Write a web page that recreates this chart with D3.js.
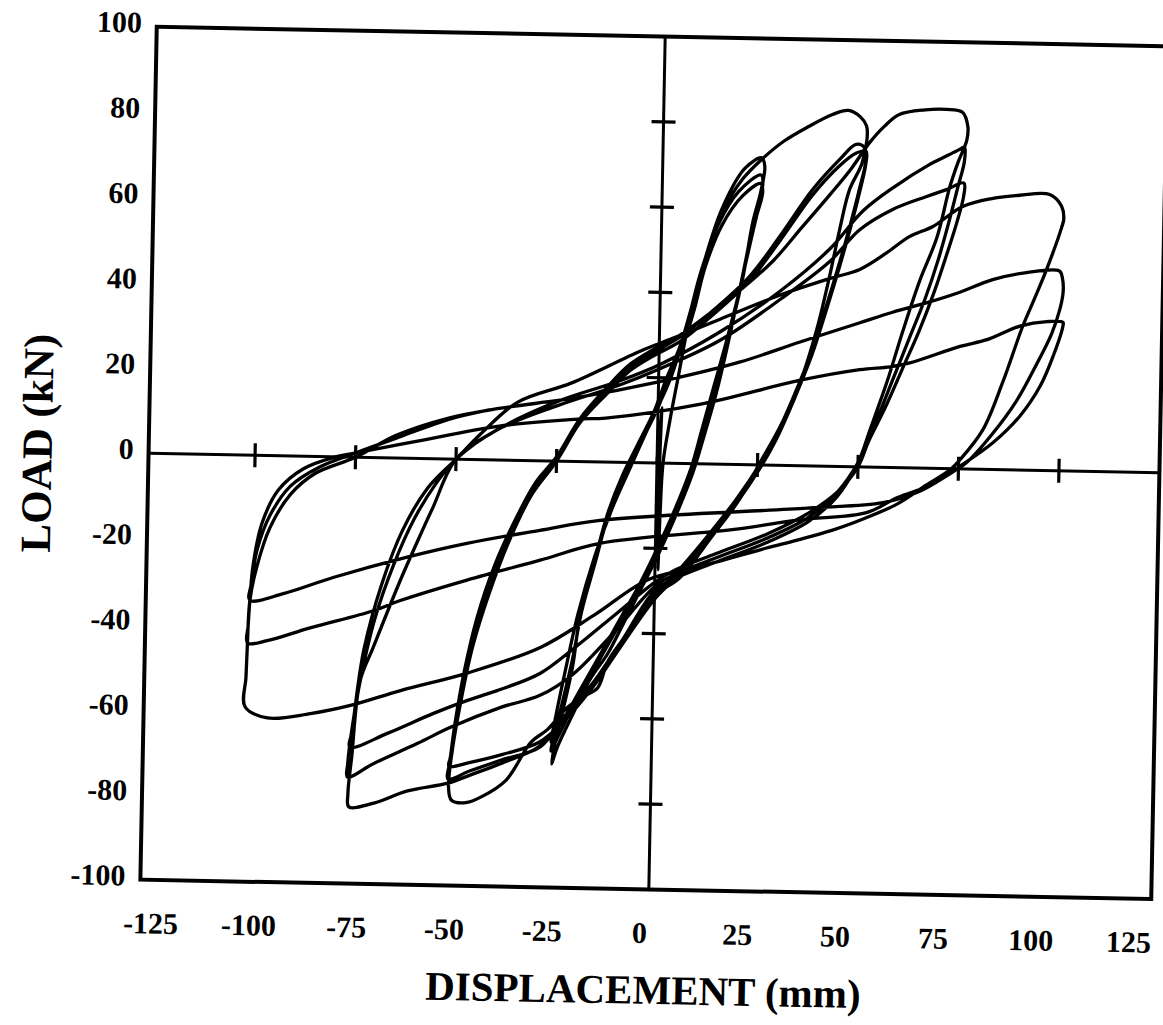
<!DOCTYPE html>
<html>
<head>
<meta charset="utf-8">
<script src="https://cdn.jsdelivr.net/npm/d3@7"></script>
<style>
  body { margin: 0; background: #fff; }
  text { font-family: "Liberation Serif", "Times New Roman", serif; font-weight: bold; fill: #000; }
</style>
</head>
<body>
<svg id="chart" width="1163" height="1025"></svg>
<script>
// Cyclic load test: load (kN) against displacement (mm), recorded in loading order.
const initialLoading = [[0,0],[0.9,13],[0.7,3],[0.5,-12],[0.7,-25],[1,-12],[1.5,0],[3,10],[5,21],[7,32],[10.4,46],[15,60],[20.5,69.5],[24.6,72]];

const cycles25 = [
  [25.4,70],[24.5,64],[22.7,57],[20.5,44],[18.5,35],[16.8,27],[14.5,17],[11.3,5.6],[9,-2],[5.2,-11.6],[0.5,-22],[-3.6,-30],[-7.7,-38],[-11.4,-45],[-15.6,-51],[-19.6,-59],[-23.4,-67],[-24.8,-71],
  [-24,-66],[-22.6,-60],[-20,-48],[-18.4,-36],[-15,-23],[-12,-12],[-8.5,-3],[-5,4],[-1,12],[2,20],[5,27],[7.4,35],[10,45],[14,56],[19,64],[24.5,68],
  [25,66],[23.5,60],[21.5,50],[19.5,40],[17,30],[14,18],[11,7],[8.5,-2],[5,-11],[0.5,-21],[-4,-30],[-8,-37],[-12,-44],[-16,-51],[-20,-58],[-23.5,-65],[-25,-68],
  [-24.2,-64],[-22.5,-57],[-20,-46],[-18,-35],[-15,-24],[-12,-13],[-8,-3],[-4,5],[0,13],[3,21],[6,28],[8.5,36],[11,46],[15,56],[20,63],[24.5,66],
  [25,64],[23.5,58],[21.5,49],[19.5,40],[17,30],[14,19],[11,8],[8.5,-1],[5,-10],[0.5,-20],[-4,-29],[-8,-36],[-12,-43],[-16,-50],[-20,-57],[-23.5,-63],[-25,-66]
];

const cycles50 = [
  [-24,-60],[-22,-50],[-19,-36],[-15,-22],[-11,-11],[-7,-2],[-2,9],[3,20],[7,33],[10.4,46],[15,59],[20,67],[25,72],[30,76],[36,79.5],[42,82.5],[46,83.5],[49,82],[50.5,80],
  [50.7,77],[49.5,71],[46.6,65],[44.3,55.5],[42,44.4],[39.1,32],[35.2,19.5],[30.4,9],[25.6,0.5],[20.8,-8],[14,-17],[6,-27],[0,-31],[-4,-37],[-8.3,-42.4],[-11.4,-47],[-13.7,-53],[-17,-55],[-21,-57.6],[-26,-63],[-30,-66],[-36,-75],[-42,-79],[-46,-80.5],[-49.5,-80],
  [-50.3,-77],[-49.5,-68],[-47.5,-56],[-45,-44],[-41,-31],[-36,-18],[-31,-8],[-25,0],[-19.4,9.7],[-12.8,16.9],[-7.2,22.4],[-1.6,25.8],[5,29.6],[12,35],[22,44],[29.4,53.6],[37.4,64.8],[44,72],[48,75.6],[50,75],
  [50.5,72],[49,65],[47,57],[44.5,48],[41.5,38],[38,27],[34,17],[29.5,7],[25.5,0],[20,-8],[12,-18],[5,-26],[0,-31],[-8,-42],[-15,-52],[-22,-60],[-27.6,-67],[-37.5,-70.4],[-45,-73],[-50.5,-75],
  [-50.3,-72],[-49,-64],[-47,-53],[-44,-40],[-40,-27],[-35,-15],[-30,-6],[-25,0],[-19.4,9],[-12.8,16],[-7.2,21.5],[-1.6,25],[5,28.5],[12,34],[22,43],[29.4,52.5],[37.4,63.5],[44,70.5],[48,73.5],[50.5,74],
  [50.5,71],[49,64],[47,56],[44.5,47],[41.5,37],[38,26],[34,16],[29.5,6],[25.5,-1],[20,-9],[12,-19],[5,-27],[0,-32],[-8,-43],[-15,-53],[-22,-61],[-28,-66],[-37,-69],[-45,-71],[-50.3,-72]
];

const cycles75 = [
  [-50,-70],[-49,-62],[-47,-50],[-44,-37],[-40,-25],[-35,-14],[-30,-5],[-25,1],[-19.4,10],[-12.8,17.5],[-7.2,23],[-1.6,26.5],[5,30],[12,35],[20,41],[28,48],[35,56],[42,64],[47,70],[51.3,76],[55,80],[58.6,82.8],[65,84],[70.3,84.2],[74.3,83.6],[75.7,80.3],
  [75.5,77],[73.5,72],[71.5,66],[68.5,54],[64.5,44],[60.5,32],[56.8,20],[52.8,8.7],[50,1],[45,-7],[38,-13],[28,-18],[15,-23],[5,-27],[0,-30],[-8,-42],[-15,-52],[-22,-60],[-28,-67],[-37,-71],[-45,-74],[-50.5,-76],[-60.5,-78],[-68.8,-81],[-75,-82],
  [-75.3,-79],[-74.5,-70],[-72.8,-52.4],[-69.7,-44.5],[-63.3,-28.7],[-59,-19],[-55.5,-11.4],[-50,0],[-40,7],[-25,14],[-10,19],[0,23],[15,31],[30,41],[42,51],[50,60],[58,66],[66,71],[71,73.5],[74,75],[75,75.4],
  [75,72],[73.5,66],[71.5,58],[69,49],[66,40],[62,30],[58,20],[54,10],[50,1],[45,-6],[38,-12],[28,-17],[15,-22],[5,-26],[0,-29],[-10,-40],[-20,-50],[-28,-55],[-37.7,-58],[-50.1,-62.9],[-58.2,-66.8],[-69,-71.7],[-75.5,-75],
  [-75.5,-72],[-74.5,-63],[-72.5,-51],[-69.5,-38],[-65,-25],[-60,-14],[-55,-6],[-50,0],[-40,7],[-25,13],[-10,18],[0,22],[15,29],[30,39],[42,48],[49.3,55.6],[57.4,60.5],[65.8,63.7],[70.7,65.4],[75,67],
  [75,64],[73.5,58],[71,50],[68,41],[64.5,32],[60.5,23],[56.5,14],[52.5,6],[50,0],[45,-6],[38,-11],[28,-16],[15,-21],[5,-25],[0,-28],[-10,-36],[-20,-44],[-28,-49.8],[-37,-53.5],[-46,-56.5],[-54.4,-59.7],[-65.8,-64.6],[-75,-68]
];

const cycles100 = [
  [-74.5,-64],[-73.5,-55],[-72,-45],[-68,-30],[-63,-17],[-57,-7],[-50,0],[-44,6],[-35,13.6],[-21.6,18.4],[-4.6,26.2],[4.1,29.6],[15,34],[30,40],[42,44],[49.5,46.3],[56.1,50.3],[61.7,54.2],[67.5,56.7],[74.8,61.5],[82,63.5],[88.9,64.4],[96.4,64.7],[99.4,62],[100,59],
  [99.5,57],[96,47.2],[93,40],[90.3,33.7],[85.6,20.5],[80.9,9.3],[75.4,2.2],[73,-0.2],[67,-4],[60,-8.5],[52,-12],[43.8,-15],[35,-17.5],[27.4,-19.5],[10.7,-24.2],[-1.7,-27.4],[-15,-36],[-28,-43.7],[-46.2,-50.1],[-62.7,-54.5],[-75.1,-58.2],[-85,-60.3],[-95.7,-61.5],[-101.3,-59],
  [-101.2,-52],[-101,-44],[-100.6,-34],[-99,-26],[-96,-17],[-91,-9],[-85,-4],[-75,0],[-65,5.3],[-52,9.6],[-40,12],[-20,15],[0,19],[20,24],[35,29],[49.8,33.8],[57.9,36.4],[66.4,38.8],[74.5,41.4],[82.6,44.5],[91,46.3],[99.2,46.8],[100,44.9],
  [100.2,42],[99.5,38],[97.5,32],[94,25],[89,16],[83,8],[77,1.5],[74,-0.5],[68,-4],[60,-7],[52.3,-10.7],[35.6,-12.7],[19,-15.3],[-13.8,-19.1],[-28.6,-23.3],[-46.7,-28.3],[-63.2,-33.4],[-69.8,-35.9],[-85.5,-40.2],[-96.1,-43.4],[-101,-44],
  [-100.9,-40],[-100.6,-34],[-100,-26],[-98,-16],[-94,-8],[-88,-3],[-80,0],[-75,1],[-60,4],[-39,8],[-19,10],[-13,10.3],[10.6,14],[35,20],[50,22.8],[57.5,23.6],[62.4,24.6],[74.8,28.7],[81.5,30.4],[89.6,33.7],[96.3,34.9],[100.3,34.8],
  [100.3,33.9],[98,26.8],[94.9,19.7],[90,12.6],[83.5,6.3],[75.4,0.6],[70,-3],[64.9,-5.7],[56.4,-8.3],[37.6,-9.9],[-13.9,-13.7],[-28.8,-16.3],[-46.9,-19.7],[-61.7,-23.2],[-80,-28.3],[-92.3,-32.3],[-100.6,-34],
  [-100.3,-30],[-99,-22],[-96,-14],[-91,-7],[-84,-2.5],[-75,1],[-64,5],[-52,9.3],[-42,11.7]
];

// Axis labels and tick positions
const xTickLabels = [-125, -100, -75, -50, -25, 0, 25, 50, 75, 100, 125];
const yTickLabels = [100, 80, 60, 40, 20, 0, -20, -40, -60, -80, -100];
const xAxisMarks = [-100, -75, -50, -25, 25, 50, 75, 100];
const yAxisMarks = [80, 60, 40, 20, -20, -40, -60, -80];
const xTitle = "DISPLACEMENT (mm)";
const yTitle = "LOAD (kN)";

const svg = d3.select("#chart");
svg.append("rect").attr("width", 1163).attr("height", 1025).attr("fill", "#fff");

// the whole sheet sits slightly turned
const g = svg.append("g").attr("transform", "rotate(1.1,657,463)");

const x = d3.scaleLinear().domain([-125, 125]).range([657 - 502.5, 657 + 502.5]);
const y = d3.scaleLinear().domain([-100, 100]).range([889.5, 36.5]);
// label positions along the bottom edge
const xLab = d3.scaleLinear().domain([-125, 125]).range([159, 1137]);
const plain = d => String(d);   // hyphen-minus, as typed on the original sheet

const frameX0 = x(-126.5), frameX1 = x(125);

// frame
g.append("rect")
  .attr("x", frameX0).attr("y", y(100))
  .attr("width", frameX1 - frameX0).attr("height", y(-100) - y(100))
  .attr("fill", "none").attr("stroke", "#000").attr("stroke-width", 4);

// axes through the origin
g.append("line").attr("x1", frameX0).attr("x2", frameX1).attr("y1", y(0)).attr("y2", y(0))
  .attr("stroke", "#000").attr("stroke-width", 3);
g.append("line").attr("x1", x(0)).attr("x2", x(0)).attr("y1", y(100)).attr("y2", y(-100))
  .attr("stroke", "#000").attr("stroke-width", 3);

g.selectAll("line.xm").data(xAxisMarks).join("line").attr("class", "xm")
  .attr("x1", d => x(d)).attr("x2", d => x(d))
  .attr("y1", y(0) - 12).attr("y2", y(0) + 12)
  .attr("stroke", "#000").attr("stroke-width", 3.2);
g.selectAll("line.ym").data(yAxisMarks).join("line").attr("class", "ym")
  .attr("x1", x(0) - 12).attr("x2", x(0) + 12)
  .attr("y1", d => y(d)).attr("y2", d => y(d))
  .attr("stroke", "#000").attr("stroke-width", 3.2);

// bottom tick labels
const axB = d3.axisBottom(xLab).tickValues(xTickLabels).tickFormat(plain).tickSize(0).tickPadding(0);
const gB = g.append("g").attr("transform", `translate(0,${y(-100) + 44})`).call(axB);
gB.select(".domain").remove();
gB.selectAll("text").attr("font-size", 30).attr("dy", "0.32em")
  .style("font-family", '"Liberation Serif", serif').style("font-weight", "bold");

// left tick labels
const axL = d3.axisLeft(y).tickValues(yTickLabels).tickFormat(plain).tickSize(0).tickPadding(0);
const gL = g.append("g").attr("transform", `translate(${frameX0 - 15},-4)`).call(axL);
gL.select(".domain").remove();
gL.selectAll("text").attr("font-size", 30)
  .style("font-family", '"Liberation Serif", serif').style("font-weight", "bold");

// titles
g.append("text").attr("x", 653).attr("y", 990).attr("text-anchor", "middle")
  .attr("dominant-baseline", "central").attr("font-size", 41).text(xTitle);
g.append("text").attr("transform", "translate(37,455) rotate(-90)").attr("text-anchor", "middle")
  .attr("dominant-baseline", "central").attr("font-size", 43).text(yTitle);

// hysteresis record
const path = [].concat(initialLoading, cycles25, cycles50, cycles75, cycles100);
const line = d3.line().x(d => x(d[0])).y(d => y(d[1])).curve(d3.curveCatmullRom.alpha(0.5));
g.append("path").datum(path).attr("d", line)
  .attr("fill", "none").attr("stroke", "#000").attr("stroke-width", 3.3)
  .attr("stroke-linejoin", "round").attr("stroke-linecap", "round");
</script>
</body>
</html>
